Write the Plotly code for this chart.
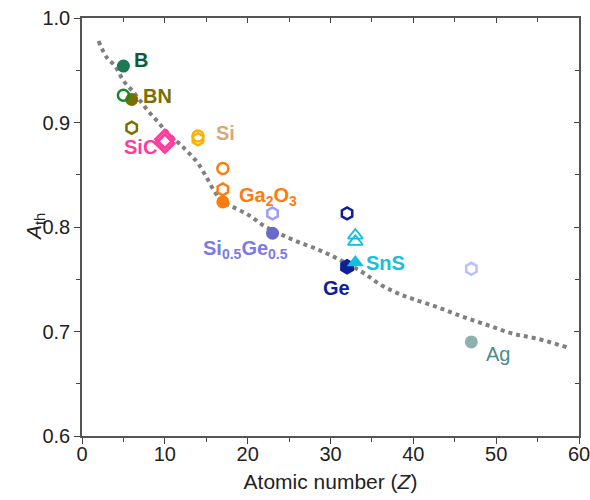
import plotly.graph_objects as go

# ---- data ----
curve_z = [2, 3, 4, 5, 6, 7, 8, 9, 10, 11, 12, 13, 14, 15, 16, 17, 18, 20, 22, 24, 26, 28, 30, 32, 34, 36, 38, 40, 43, 46, 49, 52, 55, 58.5]
curve_a = [0.978, 0.962, 0.954, 0.940, 0.931, 0.921, 0.911, 0.902, 0.893, 0.885, 0.878, 0.870, 0.861, 0.848, 0.834, 0.824, 0.820, 0.812, 0.801, 0.793, 0.786, 0.780, 0.773, 0.765, 0.756, 0.745, 0.737, 0.731, 0.723, 0.714, 0.706, 0.698, 0.693, 0.685]

filled_circle_z = [5, 6, 17, 23, 47]
filled_circle_a = [0.954, 0.922, 0.824, 0.794, 0.690]
open_circle_z = [5, 14, 17]
open_circle_a = [0.926, 0.887, 0.856]
open_hex_z = [6, 14, 17, 23, 32, 47]
open_hex_a = [0.895, 0.884, 0.836, 0.813, 0.813, 0.760]
filled_hex_z = [32]
filled_hex_a = [0.762]
open_diamond_z = [10, 10]
open_diamond_a = [0.884, 0.880]
open_tri_z = [33, 33]
open_tri_a = [0.792, 0.786]
filled_tri_z = [33]
filled_tri_a = [0.766]

label_text = ["B", "BN", "SiC", "Si", "Ga<sub>2</sub>O<sub>3</sub>", "Si<sub>0.5</sub>Ge<sub>0.5</sub>", "Ge", "SnS", "Ag"]
label_z = [7.1, 9.1, 7.1, 17.3, 22.4, 19.7, 30.7, 36.6, 50.2]
label_a = [0.960, 0.925, 0.877, 0.890, 0.829, 0.778, 0.742, 0.766, 0.678]

x_ticks = [0, 10, 20, 30, 40, 50, 60]
y_ticks = [0.6, 0.7, 0.8, 0.9, 1.0]

# ---- styles ----
filled_circle_colors = ["#1b7a55", "#7a6f00", "#fb7d12", "#6a6acb", "#8fb0b0"]
open_circle_colors = ["#138a2a", "#ffb000", "#fb7d12"]
open_hex_colors = ["#7a6f00", "#ffb000", "#fb7d12", "#9c9cff", "#0f1f96", "#b8c0ff"]
label_colors = ["#0f5a3c", "#7a6f00", "#ff3c9c", "#d8a878", "#fb7d12", "#7b7be6", "#0f1f96", "#14bfe0", "#4d8a8a"]
label_bold = [True, True, True, True, True, True, True, True, False]
FONT = "Liberation Sans, Arial, sans-serif"

fig = go.Figure()
fig.add_trace(go.Scatter(x=curve_z, y=curve_a, mode="lines", line=dict(color="#808080", width=4, dash="4px,4px", shape="spline"), hoverinfo="skip"))
fig.add_trace(go.Scatter(x=filled_circle_z, y=filled_circle_a, mode="markers", marker=dict(symbol="circle", size=13, color=filled_circle_colors, line=dict(width=0))))
fig.add_trace(go.Scatter(x=open_circle_z, y=open_circle_a, mode="markers", marker=dict(symbol="circle-open", size=11, color=open_circle_colors, line=dict(width=2.5))))
fig.add_trace(go.Scatter(x=open_hex_z, y=open_hex_a, mode="markers", marker=dict(symbol="hexagon-open", size=12, color=open_hex_colors, line=dict(width=2.5))))
fig.add_trace(go.Scatter(x=filled_hex_z, y=filled_hex_a, mode="markers", marker=dict(symbol="hexagon", size=16, color="#0f1f96", line=dict(width=0))))
fig.add_trace(go.Scatter(x=open_diamond_z, y=open_diamond_a, mode="markers", marker=dict(symbol="diamond-open", size=14, color="#ff3c9c", line=dict(width=3))))
fig.add_trace(go.Scatter(x=open_tri_z, y=open_tri_a, mode="markers", marker=dict(symbol="triangle-up-open", size=13, color="#14bfe0", line=dict(width=1.8))))
fig.add_trace(go.Scatter(x=filled_tri_z, y=filled_tri_a, mode="markers", marker=dict(symbol="triangle-up", size=15, color="#14bfe0", line=dict(width=0))))
fig.add_trace(go.Scatter(x=[None], y=[None], xaxis="x2", yaxis="y2", showlegend=False))

for t, z, a, c, b in zip(label_text, label_z, label_a, label_colors, label_bold):
    fig.add_annotation(x=z, y=a, text=(f"<b>{t}</b>" if b else t), showarrow=False,
                       font=dict(family=FONT, size=20, color=c), xanchor="center", yanchor="middle")

# y-axis title placed close to the tick labels, as in the reference
fig.add_annotation(xref="paper", yref="paper", x=0, y=0.5, xshift=-47, text="<i>A</i><sub>th</sub>",
                   textangle=-90, showarrow=False, font=dict(family=FONT, size=21, color="#222222"),
                   xanchor="center", yanchor="middle")

axcommon = dict(showgrid=False, zeroline=False, showline=True, linecolor="#555555", linewidth=1.5,
                tickcolor="#444444", tickwidth=1.3, automargin=False)
fig.update_layout(
    width=590, height=500, margin=dict(l=82, r=11, t=18, b=64),
    paper_bgcolor="white", plot_bgcolor="white", showlegend=False,
    font=dict(family=FONT, size=20, color="#222222"),
    xaxis=dict(range=[0, 60], tickvals=x_ticks, ticks="outside", ticklen=6, ticklabelstandoff=-7,
               ticklabeloverflow="allow",
               minor=dict(ticks="outside", ticklen=4, dtick=5, tickcolor="#444444"),
               title=dict(text="Atomic number (<i>Z</i>)", font=dict(size=21), standoff=11), **axcommon),
    yaxis=dict(range=[0.6, 1.0], tickvals=y_ticks, tickformat=".1f", ticks="outside", ticklen=6,
               ticklabeloverflow="allow",
               minor=dict(ticks="outside", ticklen=4, dtick=0.05, tickcolor="#444444"), **axcommon),
    xaxis2=dict(overlaying="x", side="top", anchor="y", range=[0, 60], tickvals=x_ticks, ticks="inside", ticklen=5,
                minor=dict(ticks="inside", ticklen=4, dtick=5, tickcolor="#444444"), showticklabels=False, **axcommon),
    yaxis2=dict(overlaying="y", side="right", anchor="x", range=[0.6, 1.0], tickvals=y_ticks, ticks="inside", ticklen=5,
                minor=dict(ticks="inside", ticklen=4, dtick=0.05, tickcolor="#444444"), showticklabels=False, **axcommon),
)
fig.write_html("out.html", config={"displayModeBar": False},
               post_script="document.body.style.margin='0';document.body.style.overflow='hidden';")
